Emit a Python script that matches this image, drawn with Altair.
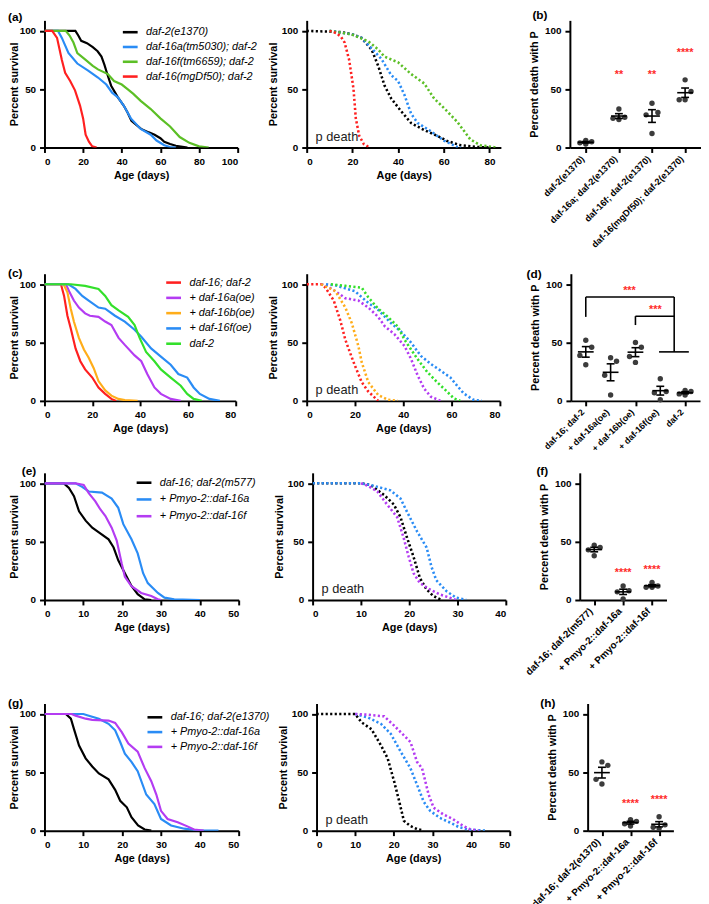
import json
import altair as alt
import pandas as pd

FONT = "Liberation Sans"
YMAX = 109
H = 129
STAR_RED = "#ff2a2a"

BLACK = "#000000"
BLUE = "#2a8cf5"
GREEN_A = "#5cbf26"
RED = "#ff2020"
PURPLE = "#b43cf2"
ORANGE = "#ffad1a"
GREEN_C = "#33e02b"

# ---------------- panel (a) survival ----------------
A_NAMES = ["daf-2(e1370)", "daf-16a(tm5030); daf-2", "daf-16f(tm6659); daf-2", "daf-16(mgDf50); daf-2"]
A_COLORS = [BLACK, BLUE, GREEN_A, RED]
A1_T = [0, 16, 17.5, 19, 22, 25, 27.5, 29.5, 31, 32.5, 34.5, 38, 41, 43, 45, 50, 54, 57, 60, 62, 65, 68, 74]
A1_S = [100, 100, 96, 91.5, 89.5, 86, 82.5, 78, 71, 63, 53, 43, 36, 30, 23, 16, 13, 11, 8, 5, 3, 1.5, 0]
A2_T = [0, 7, 9, 12.4, 17, 22.6, 27.7, 32, 35, 38, 41, 44.7, 49.8, 55, 58, 62, 65, 68]
A2_S = [100, 100, 94, 81, 72, 66, 60, 54, 47, 43, 36, 25, 16, 11, 6, 2, 0.5, 0]
A3_T = [0, 11, 13, 15, 17, 21, 25, 27.7, 32.8, 36, 40, 43, 46, 49.8, 55, 60, 65, 70, 75, 80, 85]
A3_S = [100, 100, 96, 90, 81, 75.5, 70, 67, 63, 57, 54, 50, 46, 40, 33, 25, 18, 9, 4, 1, 0]
A4_T = [0, 4, 6.5, 9, 10.7, 13.3, 15.8, 18.4, 20, 21.3, 23, 24.7, 27]
A4_S = [100, 100, 94, 75, 64, 57, 49, 36, 25, 11, 5, 1, 0]

# ---------------- panel (a) p death ----------------
AP1_T = [0, 15, 20, 24, 28.4, 31.3, 34.1, 37, 41.4, 45.7, 51.4, 57.2, 61.5, 67.3, 74.5, 80]
AP1_S = [100, 99, 97, 94, 84, 70, 53, 42, 31, 21, 15, 10, 5.6, 2, 0.5, 0]
AP2_T = [10, 20, 24, 28.4, 32.7, 37, 40, 42.8, 45.7, 48.6, 54.3, 60, 65.9, 67.6]
AP2_S = [100, 97, 94, 85, 76, 62, 57, 45, 29, 21, 14, 6, 0.5, 0]
AP3_T = [10, 19.7, 27, 31.3, 34, 40, 45.7, 51.4, 55.8, 60, 65.9, 71.6, 76, 83]
AP3_S = [100, 97, 91, 84, 78, 73, 63, 55, 42, 34, 22, 7, 2, 0]
AP4_T = [10, 13, 15, 16.6, 18.6, 19.6, 20.5, 21.5, 23, 25, 27.5]
AP4_S = [100, 98, 95, 90, 75, 62, 50, 25, 10, 3, 0]

# ---------------- panel (b) ----------------
B_CATS = ["daf-2(e1370)", "daf-16a; daf-2(e1370)", "daf-16f; daf-2(e1370)", "daf-16(mgDf50); daf-2(e1370)"]
B_VALS = [[6, 5, 4, 3], [33, 26, 25, 24], [38, 30, 28, 12], [58, 48, 41, 41]]
B_STARS = ["", "**", "**", "****"]
B_STAR_Y = [0, 62.5, 62.5, 81]

# ---------------- panel (c) survival ----------------
C_NAMES = ["daf-16; daf-2", "+ daf-16a(oe)", "+ daf-16b(oe)", "+ daf-16f(oe)", "daf-2"]
C_COLORS = [RED, PURPLE, ORANGE, BLUE, GREEN_C]
C1_T = [0, 6.9, 8.2, 9.6, 11, 13, 15, 17, 20, 22.6, 25.4, 28, 30]
C1_S = [100, 100, 90, 73, 62, 45, 34, 27, 20, 11.5, 6, 1.7, 0]
C2_T = [0, 9, 10.3, 12.3, 14.4, 17, 19, 22.6, 25.4, 28, 31, 33.6, 37.7, 40.5, 43, 46, 48.7, 52.8, 57]
C2_S = [100, 100, 94, 86, 80, 75, 73, 72, 68, 65, 54, 48, 39, 34, 23, 11.5, 6, 1.7, 0]
C3_T = [0, 8, 9.6, 11, 12.3, 14.4, 16.5, 18.5, 20.6, 22.6, 25.4, 28, 30.9, 33.6, 39]
C3_S = [100, 100, 93, 79, 68, 54, 44, 37, 28, 17, 9, 4.5, 1.7, 0.6, 0]
C4_T = [0, 10, 13, 15.8, 18.5, 22.6, 25.4, 29.5, 33.6, 37.7, 40.5, 44.6, 48.7, 52.8, 56, 59.7, 62.4, 65, 69, 73.4]
C4_S = [100, 100, 96, 90, 86, 80, 79, 73, 68, 61, 55, 45, 38, 31, 23, 20, 11.5, 6, 1.7, 0]
C5_T = [0, 11, 17, 22.6, 25.4, 28, 31, 35, 37.7, 39.8, 42.5, 46, 48.7, 52.8, 57, 59.7, 62.4, 65.8]
C5_S = [100, 100, 98.6, 96, 90, 82, 77.5, 72, 65, 54, 42, 34, 27, 20, 13, 6, 1.7, 0]

# ---------------- panel (c) p death ----------------
CP1_T = [0, 6, 7.8, 11.2, 13.9, 16, 18, 20, 22.8, 25.5, 29.6]
CP1_S = [100, 100, 97, 86, 69, 52.5, 41, 30, 16, 8, 0]
CP2_T = [6, 7.8, 11.9, 16, 21.4, 25.5, 29.6, 32.3, 36.4, 40.5, 43.2, 45.9, 48.6, 51.4, 55.4]
CP2_S = [100, 99, 94, 88, 86, 80, 72, 64, 57, 47, 36, 22, 10.6, 3.6, 0]
CP3_T = [6, 11.9, 16, 18.7, 21.4, 22.8, 25.5, 29.6, 33.6, 37.7]
CP3_S = [100, 94, 80, 66.5, 47, 33, 16, 5, 1, 0]
CP4_T = [8, 11.9, 20, 25.5, 29.6, 35, 39, 43.2, 47.3, 51.4, 55.4, 59.5, 62.3, 65, 69, 72.5]
CP4_S = [100, 99, 94, 84, 78, 66.5, 59.5, 50, 38.5, 31.6, 26, 20, 13, 6.4, 1, 0]
CP5_T = [10, 16, 22.8, 25.5, 29.6, 33.6, 37.7, 40.5, 43.2, 45.9, 50, 54, 58.2, 61, 63.6]
CP5_S = [100, 98.6, 97, 88.8, 79, 72, 63.7, 52.5, 44, 35.8, 24.6, 16, 7.8, 2, 0]

# ---------------- panel (d) ----------------
D_CATS = ["daf-16; daf-2", "+ daf-16a(oe)", "+ daf-16b(oe)", "+ daf-16f(oe)", "daf-2"]
D_VALS = [[52, 46, 39, 31], [37, 34, 22, 5], [50, 46, 38, 33], [19, 8, 7, 1], [9, 8, 6, 5]]
D_BR_X = [0, 0, 3.56, 2, 2, 2.95]
D_BR_X2 = [0, 3.56, 3.56, 2, 3.56, 4.15]
D_BR_Y = [72, 89, 42, 65, 72.6, 42]
D_BR_Y2 = [89, 89, 89, 72.6, 72.6, 42]
D_STAR_X = [1.76, 2.8]
D_STAR_Y = [94, 78]
D_STARS = ["***", "***"]

# ---------------- panel (e) ----------------
E_NAMES = ["daf-16; daf-2(m577)", "+ Pmyo-2::daf-16a", "+ Pmyo-2::daf-16f"]
E_COLORS = [BLACK, BLUE, PURPLE]
E1_T = [0, 5, 6.3, 7.6, 8.9, 10.6, 12.3, 14, 16.5, 17.8, 19, 20.7, 22.4, 24, 25.8, 27.5]
E1_S = [100, 100, 96, 89, 76, 68, 62, 58, 52, 45, 34, 23, 12, 5, 0.6, 0]
E2_T = [0, 8, 9.7, 11.4, 14.8, 17.3, 19, 20.3, 22.4, 24, 25.4, 26.6, 29.2, 30.9, 33.4, 40]
E2_S = [100, 100, 97, 93, 92, 87, 79, 65, 52, 40, 23, 14.5, 6, 2, 0.6, 0]
E3_T = [0, 8, 10.1, 11.4, 13.1, 14.4, 15.7, 17.3, 18.6, 19.9, 20.7, 22.4, 24.9, 27.5, 29.2, 30]
E3_S = [100, 100, 98.6, 91.6, 84.6, 77.6, 72, 62, 51, 31, 20, 11.8, 6, 3.4, 0.6, 0]
EP1_T = [0, 10, 12, 14.8, 16.8, 18.2, 19.5, 20.9, 22.2, 23.6, 25, 26.7]
EP1_S = [100, 100, 98.6, 90, 82, 71, 54, 37, 19, 9, 3.4, 0]
EP2_T = [0, 10, 12, 16.1, 18.2, 19.5, 21.6, 23.6, 24.6, 25.6, 27.7, 29.7, 31.8]
EP2_S = [100, 100, 98.6, 94, 87, 76, 59, 45, 28.6, 17, 7.6, 2, 0]
EP3_T = [10, 11.4, 13.4, 15.4, 17.5, 18.8, 19.9, 20.9, 22.2, 24.3, 26.3, 28.4, 29.7]
EP3_S = [100, 98, 93, 82, 71, 54, 37, 23, 14.6, 9, 4.8, 2, 0]

# ---------------- panel (f) ----------------
F_CATS = ["daf-16; daf-2(m577)", "+ Pmyo-2::daf-16a", "+ Pmyo-2::daf-16f"]
F_VALS = [[47, 45, 43, 38], [12, 8, 7, 1], [15, 12, 11, 11]]
F_STARS = ["", "****", "****"]
F_STAR_Y = [0, 23, 25.8]

# ---------------- panel (g) ----------------
G_NAMES = ["daf-16; daf-2(e1370)", "+ Pmyo-2::daf-16a", "+ Pmyo-2::daf-16f"]
G_COLORS = [BLACK, BLUE, PURPLE]
G1_T = [0, 5.5, 6.8, 7.6, 8.9, 10.6, 12.3, 14, 16.5, 18.2, 19.5, 21.2, 22.4, 24.1, 25.8, 27.5]
G1_S = [100, 100, 96, 87, 73, 62, 55, 49, 44, 35, 25.6, 20, 11.5, 4.5, 1, 0]
G2_T = [0, 10, 11, 14, 16.5, 18.2, 19.5, 20.7, 22.4, 24, 26.2, 28.3, 30, 32.6, 36, 39.3, 44.8]
G2_S = [100, 100, 99, 96, 91.6, 86, 76, 66, 59, 51, 31, 22.8, 10, 4.5, 1.7, 0.3, 0]
G3_T = [0, 7, 8, 10.6, 12.3, 16.5, 18.2, 19.9, 21.6, 24, 25.8, 27.5, 28.8, 30, 31.7, 34.3, 36.8, 38.5, 41]
G3_S = [100, 100, 98.6, 96, 95, 94.4, 92.4, 84.5, 74.7, 67.7, 53.6, 42.4, 31, 17, 10, 7.3, 3.7, 1, 0]
GP1_T = [0, 10, 11.6, 14.2, 16.7, 18.4, 20.1, 21.4, 22.6, 24.3, 26, 27.7]
GP1_S = [100, 100, 93, 87, 73, 62, 42, 25, 8.5, 4, 1.4, 0]
GP2_T = [10, 13.3, 16.7, 19.2, 21.8, 24.3, 26, 27.7, 29.4, 31.9, 34.5, 37, 39.6, 43.8]
GP2_S = [100, 97, 91.5, 83, 67.6, 53.5, 39.4, 25, 17, 11, 7, 2.8, 0.8, 0]
GP3_T = [10, 13.3, 17.5, 20.1, 22.6, 24.3, 26, 27.3, 29, 30.3, 32.8, 35.3, 37.9, 39.6, 42]
GP3_S = [100, 99.4, 98, 90, 81.7, 76, 59, 53.5, 31, 19.7, 14, 9.9, 4.2, 1.4, 0]

# ---------------- panel (h) ----------------
H_CATS = ["daf-16; daf-2(e1370)", "+ Pmyo-2::daf-16a", "+ Pmyo-2::daf-16f"]
H_VALS = [[59, 56, 44, 40], [9.5, 8, 6, 4], [12, 5, 3, 2]]
H_STARS = ["", "****", "****"]
H_STAR_Y = [0, 22.8, 26]

JIT_PX = [0, 6, -6, 0]


def label_layer(text, dx, dy):
    return alt.Chart(pd.DataFrame({"lab": [text]})).mark_text(
        align="left", baseline="middle", font=FONT, fontSize=12, fontWeight="bold", color="black"
    ).encode(text="lab:N", x=alt.value(dx), y=alt.value(dy))


def surv_panel(names, colors, ts, ss, xmax, xticks, width, dotted, legend_pos=None, label=None):
    rows = []
    for name, t, s in zip(names, ts, ss):
        for a, b in zip(t, s):
            rows.append({"t": a, "s": b, "series": name})
    df = pd.DataFrame(rows)
    if dotted:
        mk = dict(strokeWidth=2.6, strokeDash=[2.2, 2.4], clip=True)
    else:
        mk = dict(strokeWidth=2.2, clip=True)
    if legend_pos is not None:
        lx, ly, rp = legend_pos
        leg = alt.Legend(orient="none", legendX=lx, legendY=ly, title=None, symbolType="stroke",
                         symbolSize=225, symbolStrokeWidth=2.6, labelFont=FONT, labelFontSize=11,
                         labelFontStyle="italic", labelColor="black", rowPadding=rp, labelOffset=7,
                         padding=0, labelLimit=400)
    else:
        leg = None
    lines = alt.Chart(df).mark_line(**mk).encode(
        x=alt.X("t:Q", scale=alt.Scale(domain=[0, xmax], nice=False),
                axis=alt.Axis(values=xticks, title="Age (days)")),
        y=alt.Y("s:Q", scale=alt.Scale(domain=[0, YMAX], nice=False),
                axis=alt.Axis(values=[0, 50, 100], title="Percent survival",
                              titlePadding=0 if legend_pos is not None else 3)),
        color=alt.Color("series:N", scale=alt.Scale(domain=names, range=colors), legend=leg),
    )
    layers = [lines]
    if dotted:
        layers.append(alt.Chart(pd.DataFrame({"lab": ["p death"]})).mark_text(
            align="left", baseline="middle", font=FONT, fontSize=13, color="#222222"
        ).encode(text="lab:N", x=alt.value(9), y=alt.value(H - 11)))
    if label is not None:
        layers.append(label_layer(*label))
    return alt.layer(*layers).properties(width=width, height=H)


def scatter_panel(cats, vals, width, xpad, stars, star_y, label, cat_fs,
                  brackets=None, extra_stars=None):
    n = len(cats)
    xdom = [-xpad, n - 1 + xpad]
    ppu = width / (xdom[1] - xdom[0])
    pts, stats = [], []
    for i, vs in enumerate(vals):
        order = sorted(range(len(vs)), key=lambda j: -vs[j])
        for rank, j in enumerate(order):
            pts.append({"x": i + JIT_PX[rank % len(JIT_PX)] / ppu, "v": vs[j]})
        m = sum(vs) / len(vs)
        sd = (sum((v - m) ** 2 for v in vs) / (len(vs) - 1)) ** 0.5
        se = sd / len(vs) ** 0.5
        stats.append({"x": i, "m": m, "lo": m - se, "hi": m + se})
    pdf = pd.DataFrame(pts)
    sdf = pd.DataFrame(stats)
    cdf = pd.DataFrame({"x": list(range(n)), "cat": cats})
    xenc = alt.X("x:Q", scale=alt.Scale(domain=xdom, nice=False, zero=False),
                 axis=alt.Axis(values=list(range(n)), labels=False, title=None))
    yenc = alt.Y("v:Q", scale=alt.Scale(domain=[0, YMAX], nice=False),
                 axis=alt.Axis(values=[0, 50, 100], title="Percent death with P", titlePadding=5))
    points = alt.Chart(pdf).mark_circle(size=30, color="#3c3c3c", opacity=1).encode(x=xenc, y=yenc)
    meanl = alt.Chart(sdf).mark_rule(color="black", strokeWidth=1.6, xOffset=-8, x2Offset=8).encode(
        x="x:Q", x2="x:Q", y="m:Q")
    errv = alt.Chart(sdf).mark_rule(color="black", strokeWidth=1.6).encode(x="x:Q", y="lo:Q", y2="hi:Q")
    caplo = alt.Chart(sdf).mark_rule(color="black", strokeWidth=1.6, xOffset=-4, x2Offset=4).encode(
        x="x:Q", x2="x:Q", y="lo:Q")
    caphi = alt.Chart(sdf).mark_rule(color="black", strokeWidth=1.6, xOffset=-4, x2Offset=4).encode(
        x="x:Q", x2="x:Q", y="hi:Q")
    catlab = alt.Chart(cdf).mark_text(
        angle=315, align="right", baseline="middle", font=FONT, fontSize=cat_fs,
        fontWeight="bold", color="black", xOffset=-3
    ).encode(x="x:Q", y=alt.value(H + 10), text="cat:N")
    layers = [points, meanl, errv, caplo, caphi, catlab]
    st = [{"x": i, "y": y, "txt": s} for i, (s, y) in enumerate(zip(stars, star_y)) if s]
    if extra_stars is not None:
        st += [{"x": x, "y": y, "txt": s} for x, y, s in zip(*extra_stars)]
    if st:
        layers.append(alt.Chart(pd.DataFrame(st)).mark_text(
            color=STAR_RED, font=FONT, fontSize=11, fontWeight="bold", baseline="middle"
        ).encode(x="x:Q", y="y:Q", text="txt:N"))
    if brackets is not None:
        bdf = pd.DataFrame({"x": brackets[0], "x2": brackets[1], "y": brackets[2], "y2": brackets[3]})
        layers.append(alt.Chart(bdf).mark_rule(color="black", strokeWidth=1.6).encode(
            x="x:Q", x2="x2:Q", y="y:Q", y2="y2:Q"))
    layers.append(label_layer(*label))
    return alt.layer(*layers).properties(width=width, height=H)


def row(panels, spacing):
    return alt.hconcat(*panels, spacing=spacing, bounds="flush").resolve_scale(
        color="independent", x="independent", y="independent")


pA1 = surv_panel(A_NAMES, A_COLORS, [A1_T, A2_T, A3_T, A4_T], [A1_S, A2_S, A3_S, A4_S],
                 100, [0, 20, 40, 60, 80, 100], 196, False, (78, 3, -1), ("(a)", -37, -3))
pA2 = surv_panel(A_NAMES, A_COLORS, [AP1_T, AP2_T, AP3_T, AP4_T], [AP1_S, AP2_S, AP3_S, AP4_S],
                 85, [0, 20, 40, 60, 80], 197, True)
pB = scatter_panel(B_CATS, B_VALS, 133, 0.48, B_STARS, B_STAR_Y, ("(b)", -38, -5), 9.3)

pC1 = surv_panel(C_NAMES, C_COLORS, [C1_T, C2_T, C3_T, C4_T, C5_T], [C1_S, C2_S, C3_S, C4_S, C5_S],
                 80, [0, 20, 40, 60, 80], 194, False, (122, 0, 0.5), ("(c)", -37, -1))
pC2 = surv_panel(C_NAMES, C_COLORS, [CP1_T, CP2_T, CP3_T, CP4_T, CP5_T],
                 [CP1_S, CP2_S, CP3_S, CP4_S, CP5_S], 80, [0, 20, 40, 60, 80], 196, True)
pD = scatter_panel(D_CATS, D_VALS, 131, 0.6, [""] * 5, [0] * 5, ("(d)", -45, 0), 9,
                   brackets=(D_BR_X, D_BR_X2, D_BR_Y, D_BR_Y2),
                   extra_stars=(D_STAR_X, D_STAR_Y, D_STARS))

pE1 = surv_panel(E_NAMES, E_COLORS, [E1_T, E2_T, E3_T], [E1_S, E2_S, E3_S],
                 50, [0, 10, 20, 30, 40, 50], 197, False, (92, 1, 2), ("(e)", -23, -2))
pE2 = surv_panel(E_NAMES, E_COLORS, [EP1_T, EP2_T, EP3_T], [EP1_S, EP2_S, EP3_S],
                 40, [0, 10, 20, 30, 40], 196, True)
pF = scatter_panel(F_CATS, F_VALS, 88, 0.5, F_STARS, F_STAR_Y, ("(f)", -44, -2), 10)

pG1 = surv_panel(G_NAMES, G_COLORS, [G1_T, G2_T, G3_T], [G1_S, G2_S, G3_S],
                 50, [0, 10, 20, 30, 40, 50], 197, False, (103, 5, -1.5), ("(g)", -37, 0))
pG2 = surv_panel(G_NAMES, G_COLORS, [GP1_T, GP2_T, GP3_T], [GP1_S, GP2_S, GP3_S],
                 50, [0, 10, 20, 30, 40, 50], 196, True)
pH = scatter_panel(H_CATS, H_VALS, 87, 0.5, H_STARS, H_STAR_Y, ("(h)", -48, 0), 10)

top = alt.vconcat(row([pA1, pA2, pB], 70), row([pC1, pC2, pD], 72), spacing=17).resolve_scale(
    color="independent", x="independent", y="independent")
bottom = alt.vconcat(row([pE1, pE2, pF], 75), row([pG1, pG2, pH], 79), spacing=20).resolve_scale(
    color="independent", x="independent", y="independent")

chart = alt.vconcat(
    top, bottom, spacing=11,
    padding={"left": 0, "top": -5, "right": 0, "bottom": 0},
).resolve_scale(color="independent", x="independent", y="independent").configure_view(
    stroke=None
).configure_axis(
    domainColor="black", domainWidth=2, tickColor="black", tickWidth=2, tickSize=5,
    labelFont=FONT, labelFontSize=10, labelFontWeight="bold", labelColor="black", labelPadding=4,
    titleFont=FONT, titleFontSize=11, titleFontWeight="bold", titleColor="black", titlePadding=3,
    grid=False,
)

chart.save("out.html", embed_options={"renderer": "svg", "actions": False})
